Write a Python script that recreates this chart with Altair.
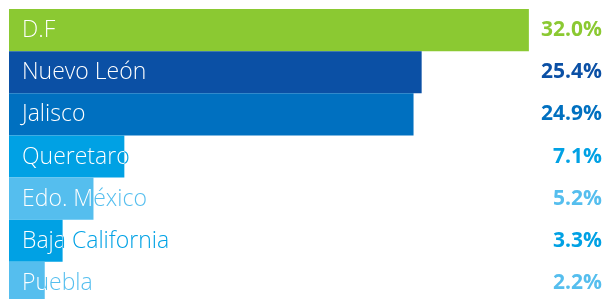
import altair as alt
import pandas as pd

states = ["D.F", "Nuevo León", "Jalisco", "Queretaro", "Edo. México", "Baja California", "Puebla"]
values = [32.0, 25.4, 24.9, 7.1, 5.2, 3.3, 2.2]
colors = ["#8BC932", "#0B50A5", "#0070C0", "#00A1E4", "#55BEEE", "#00A1E4", "#55BEEE"]

W = 593
H = 295
X_MAX = 36.5
PAD = 13


def invert(h):
    h = h.lstrip("#")
    return "#" + "".join(f"{255 - int(h[i:i + 2], 16):02X}" for i in (0, 2, 4))


# The bars and state labels are drawn in inverted colours on black and the
# whole plot is then inverted with a "difference" blend, so a label is white
# where it lies over its bar and bar-coloured where it runs past the bar end.
df = pd.DataFrame({
    "state": states,
    "value": values,
    "color": colors,
    "inv": [invert(c) for c in colors],
})
one = pd.DataFrame({"k": [0]})

y_enc = alt.Y("state:N", sort=states, axis=None,
              scale=alt.Scale(paddingInner=0, paddingOuter=0))
x_scale = alt.Scale(domain=[0, X_MAX], nice=False, zero=True)

base = alt.Chart(df)

backdrop = alt.Chart(one).mark_rect(color="black").encode(
    x=alt.value(0), x2=alt.value(W), y=alt.value(0), y2=alt.value(H),
)

bars = base.mark_bar().encode(
    x=alt.X("value:Q", axis=None, scale=x_scale),
    y=y_enc,
    color=alt.Color("inv:N", scale=None),
)

labels = base.mark_text(
    font="Open Sans", fontSize=23, fontWeight=300,
    align="left", baseline="middle", dx=PAD, blend="difference",
).encode(
    x=alt.value(0),
    y=y_enc,
    text="state:N",
    color=alt.Color("inv:N", scale=None),
)

inverter = alt.Chart(one).mark_rect(color="white", blend="difference").encode(
    x=alt.value(0), x2=alt.value(W), y=alt.value(0), y2=alt.value(H),
)

pct = base.transform_calculate(
    label="format(datum.value, '.1f') + '%'"
).mark_text(font="Open Sans", fontSize=21, fontWeight="bold",
            align="right", baseline="middle").encode(
    x=alt.value(W),
    y=y_enc,
    text="label:N",
    color=alt.Color("color:N", scale=None),
)

chart = alt.layer(backdrop, bars, labels, inverter, pct).properties(
    width=W, height=H,
    padding={"left": 1, "top": 1, "right": 0, "bottom": 0},
).configure_view(stroke=None)

chart.save("out.html", embed_options={"renderer": "svg", "actions": False})
